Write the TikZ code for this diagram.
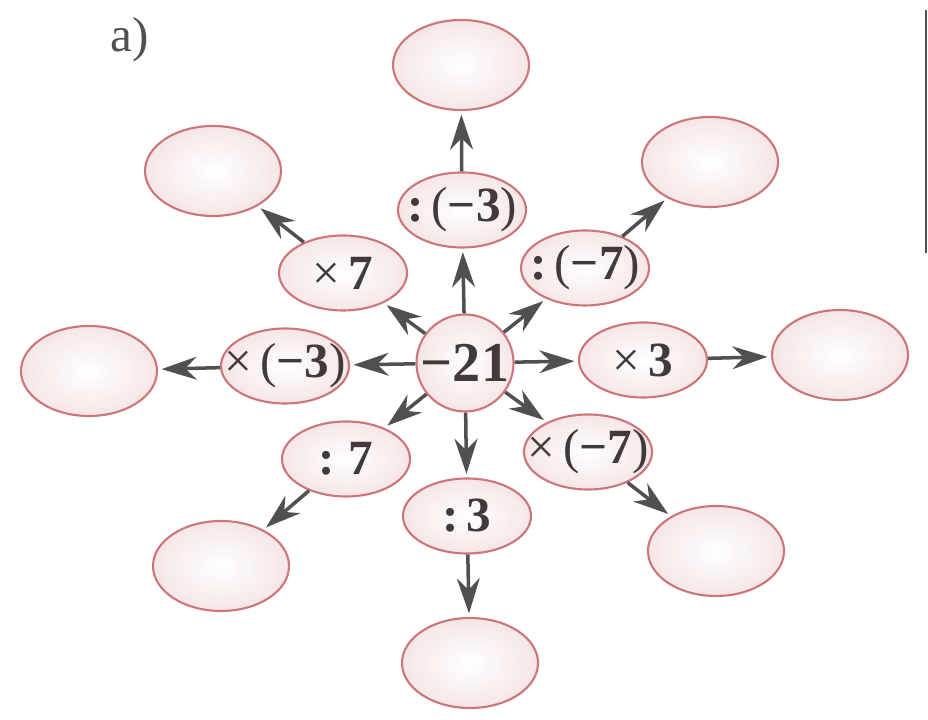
\documentclass[tikz,border=0pt]{standalone}
\usepackage{fontspec}
\setmainfont{Liberation Serif}
\usepackage{tikz}
\usepackage{xcolor}
\usetikzlibrary{arrows.meta,shapes.geometric}

\definecolor{rim}{RGB}{204,118,122}
\definecolor{rose}{RGB}{236,206,206}
\definecolor{ink}{RGB}{66,58,58}
\definecolor{shaft}{RGB}{80,80,80}
\colorlet{blushmid}{white!75!rose}
\pgfdeclareradialshading{blush}{\pgfpoint{0bp}{0bp}}{color(0bp)=(white); color(12bp)=(blushmid); color(50bp)=(rose)}
\newcommand{\squeeze}[1]{\makebox[0pt]{#1}}

\begin{document}
\begin{tikzpicture}[every node/.style={text=ink},
  hub/.style={circle,draw=rim,line width=0.6pt,shade,shading=blush,minimum size=0.97cm,inner sep=0pt,font=\fontsize{16}{18}\selectfont},
  op/.style={ellipse,draw=rim,line width=0.6pt,shade,shading=blush,minimum width=1.28cm,minimum height=0.75cm,inner sep=0pt,font=\fontsize{14}{16}\selectfont},
  res/.style={ellipse,draw=rim,line width=0.6pt,shade,shading=blush,minimum width=1.36cm,minimum height=0.9cm,inner sep=0pt},
  arr/.style={-{Stealth[length=10pt,width=6.5pt]},draw=shaft,line width=1pt,shorten >=1pt}]
  \useasboundingbox (0,0) rectangle (9.28,7.20);
  \node[text=shaft,font=\fontsize{14}{16}\selectfont] (tag) at (1.30,6.80) {a)};
  \node[hub] (c) at (4.65,3.57) {\squeeze{\textbf{−21}}};
  % operations
  \node[op] (d3m) at (4.62,5.10) {\squeeze{\textbf{:}\,(\textbf{−3})}};
  \node[op] (d7m) at (5.85,4.52) {\squeeze{\textbf{:}\,(\textbf{−7})}};
  \node[op] (m3) at (6.43,3.60) {\squeeze{×\,\textbf{3}}};
  \node[op] (m7m) at (5.88,2.68) {\squeeze{×\,(\textbf{−7})}};
  \node[op] (d3) at (4.67,2.04) {\squeeze{\textbf{:}\,\textbf{3}}};
  \node[op] (d7) at (3.46,2.61) {\squeeze{\textbf{:}\;\textbf{7}}};
  \node[op] (m3m) at (2.85,3.54) {\squeeze{×\,(\textbf{−3})}};
  \node[op] (m7) at (3.43,4.47) {\squeeze{×\,\textbf{7}}};
  % empty answers
  \node[res] (r1) at (4.61,6.55) {};
  \node[res] (r2) at (7.10,5.58) {};
  \node[res] (r3) at (8.40,3.65) {};
  \node[res] (r4) at (7.16,1.69) {};
  \node[res] (r5) at (4.70,0.57) {};
  \node[res] (r6) at (2.21,1.54) {};
  \node[res] (r7) at (0.89,3.49) {};
  \node[res] (r8) at (2.13,5.49) {};
  \draw[arr] (c)--(d3m); \draw[arr] (c)--(d7m); \draw[arr] (c)--(m3); \draw[arr] (c)--(m7m);
  \draw[arr] (c)--(d3); \draw[arr] (c)--(d7); \draw[arr] (c)--(m3m); \draw[arr] (c)--(m7);
  \draw[arr] (d3m)--(r1); \draw[arr] (d7m)--(r2); \draw[arr] (m3)--(r3); \draw[arr] (m7m)--(r4);
  \draw[arr] (d3)--(r5); \draw[arr] (d7)--(r6); \draw[arr] (m3m)--(r7); \draw[arr] (m7)--(r8);
  \draw[shaft,line width=0.7pt] (9.26,7.10)--(9.26,4.67);
\end{tikzpicture}
\end{document}
